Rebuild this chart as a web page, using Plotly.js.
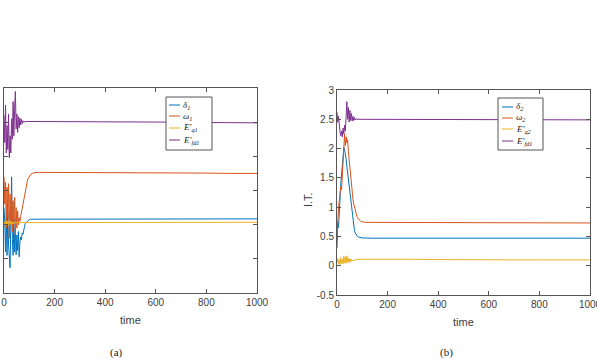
<!DOCTYPE html>
<html>
<head>
<meta charset="utf-8">
<script src="https://cdn.plot.ly/plotly-3.0.1.min.js"></script>
<style>html,body{margin:0;padding:0;background:#fff}#chart{width:597px;height:359px}</style>
</head>
<body>
<div id="chart"></div>
<script>
// ---- data ----
const time = [0,3,6,9,12,15,18,21,24,27,30,33,36,39,42,45,48,51,54,57,60,63,66,69,72,75,78,81,84,87,90,93,96,99,102,105,108,111,114,117,120,140,170,200,300,400,500,600,700,800,900,1000];

// panel (a)
const delta1 = [1.25,1.05,0.60,1.10,0.55,1.20,0.70,0.40,0.37,1.05,1.70,0.80,0.55,1.10,0.60,0.95,0.56,0.85,0.62,0.90,0.53,0.75,0.82,0.78,0.88,0.86,0.95,0.97,1.02,1.03,1.05,1.06,1.07,1.075,1.08,1.08,1.08,1.08,1.08,1.08,1.08,1.08,1.085,1.085,1.085,1.085,1.085,1.085,1.085,1.085,1.085,1.085];
const omega1 = [1.70,1.30,1.62,0.95,1.55,1.10,1.60,0.80,1.45,1.00,1.50,0.90,1.35,1.05,1.40,0.85,1.25,0.95,1.20,1.00,1.10,1.05,1.12,1.18,1.25,1.32,1.39,1.46,1.52,1.57,1.61,1.65,1.68,1.70,1.72,1.735,1.745,1.75,1.755,1.758,1.76,1.765,1.765,1.765,1.76,1.76,1.76,1.755,1.755,1.755,1.75,1.75];
const Eq1 = [1.00,1.04,0.98,1.06,1.00,1.05,0.99,1.06,1.01,1.05,1.00,1.04,1.01,1.04,1.02,1.04,1.02,1.035,1.025,1.03,1.03,1.03,1.03,1.03,1.03,1.03,1.03,1.03,1.03,1.03,1.03,1.03,1.03,1.03,1.03,1.03,1.03,1.03,1.03,1.03,1.03,1.03,1.03,1.03,1.03,1.03,1.03,1.035,1.035,1.035,1.035,1.035];
const Efd1 = [2.60,2.20,2.75,2.05,2.45,2.10,2.62,1.98,2.30,2.05,2.55,2.25,2.80,2.30,2.70,2.95,2.40,2.62,2.35,2.58,2.42,2.56,2.46,2.54,2.48,2.52,2.50,2.51,2.51,2.51,2.51,2.51,2.51,2.51,2.51,2.51,2.51,2.51,2.51,2.51,2.51,2.51,2.51,2.51,2.51,2.505,2.50,2.50,2.50,2.495,2.49,2.49];

// panel (b)
const delta2 = [0.30,0.75,0.65,1.00,1.20,1.40,1.55,1.75,1.95,2.02,1.98,1.92,1.82,1.70,1.58,1.48,1.36,1.24,1.12,0.99,0.88,0.76,0.67,0.60,0.56,0.53,0.51,0.50,0.49,0.485,0.48,0.478,0.476,0.475,0.474,0.473,0.472,0.471,0.47,0.47,0.47,0.47,0.47,0.47,0.47,0.47,0.47,0.47,0.47,0.47,0.47,0.47];
const omega2 = [0.45,0.80,1.00,1.10,1.25,1.35,1.30,1.60,1.90,2.10,2.25,2.05,2.20,2.10,2.15,1.95,1.80,1.65,1.50,1.36,1.25,1.14,1.06,0.99,0.93,0.88,0.85,0.82,0.80,0.78,0.77,0.76,0.755,0.75,0.745,0.745,0.74,0.74,0.74,0.74,0.74,0.74,0.74,0.74,0.74,0.74,0.735,0.735,0.735,0.73,0.73,0.73];
const Eq2 = [0.05,0.12,0.03,0.10,0.02,0.14,0.04,0.11,0.03,0.16,0.05,0.15,0.04,0.17,0.06,0.13,0.05,0.12,0.07,0.11,0.08,0.10,0.09,0.10,0.10,0.105,0.11,0.11,0.115,0.115,0.12,0.12,0.12,0.12,0.12,0.12,0.12,0.12,0.12,0.12,0.12,0.12,0.12,0.115,0.11,0.105,0.10,0.10,0.10,0.10,0.10,0.10];
const Efd2 = [2.62,2.45,2.55,2.35,2.28,2.22,2.30,2.20,2.35,2.25,2.40,2.30,2.55,2.80,2.50,2.70,2.45,2.65,2.48,2.60,2.47,2.55,2.48,2.53,2.49,2.51,2.50,2.50,2.50,2.50,2.50,2.50,2.50,2.50,2.50,2.50,2.50,2.50,2.50,2.50,2.50,2.50,2.50,2.50,2.50,2.50,2.50,2.495,2.495,2.49,2.49,2.49];

const namesA = ['δ<sub>1</sub>','ω<sub>1</sub>','E′<sub>q1</sub>','E′<sub>fd1</sub>'];
const namesB = ['δ<sub>2</sub>','ω<sub>2</sub>','E′<sub>q2</sub>','E′<sub>fd1</sub>'];
const xTicks = [0,200,400,600,800,1000];
const yTicksB = [-0.5,0,0.5,1,1.5,2,2.5,3];
const yTickLabelsB = ['-0.5','0','0.5','1','1.5','2','2.5','3'];
const xTitle = 'time';
const yTitleB = 'I.T.';
const panelLabels = ['(a)','(b)'];

// ---- styling ----
const colors = ['#0072BD','#D95319','#EDB120','#7E2F8E'];
const W = 597, H = 359;
const px = x => x / W, py = y => 1 - y / H;
const axisColor = '#555';
const tickFont = {family:'Liberation Sans, Arial, sans-serif', size:10, color:'#404040'};

const seriesA = [delta1, omega1, Eq1, Efd1];
const seriesB = [delta2, omega2, Eq2, Efd2];
const traces = [];
seriesA.forEach((s,i)=>traces.push({x:time,y:s,type:'scatter',mode:'lines',name:namesA[i],line:{color:colors[i],width:1},xaxis:'x',yaxis:'y',showlegend:false}));
seriesB.forEach((s,i)=>traces.push({x:time,y:s,type:'scatter',mode:'lines',name:namesB[i],line:{color:colors[i],width:1},xaxis:'x2',yaxis:'y2',showlegend:false}));

const baseAxis = {showgrid:false,zeroline:false,showline:true,mirror:'ticks',linecolor:axisColor,linewidth:1,ticks:'inside',ticklen:4,tickcolor:axisColor,tickfont:tickFont,automargin:false,ticklabeloverflow:'allow'};

// custom MATLAB-like legends
const shapes = [], annotations = [];
function legend(names, box, lineX0, lineX1, textX, rows){
  shapes.push({type:'rect',xref:'paper',yref:'paper',x0:px(box[0]),x1:px(box[2]),y0:py(box[3]),y1:py(box[1]),line:{color:'#555',width:1},fillcolor:'#fff',layer:'above'});
  names.forEach((n,i)=>{
    shapes.push({type:'line',xref:'paper',yref:'paper',x0:px(lineX0),x1:px(lineX1),y0:py(rows[i]),y1:py(rows[i]),line:{color:colors[i],width:1},layer:'above'});
    annotations.push({xref:'paper',yref:'paper',x:px(textX),y:py(rows[i]),xanchor:'left',yanchor:'middle',showarrow:false,text:'<i>'+n+'</i>',font:{family:'Liberation Serif, Times New Roman, serif',size:9,color:'#222'}});
  });
}
legend(namesA,[166,97,212,150],169,180,181,[105,116,128,140]);
legend(namesB,[498,98,543,150],502,513,514,[107,118,129,141]);

const sans = 'Liberation Sans, Arial, sans-serif', serif = 'Liberation Serif, Times New Roman, serif';
annotations.push({xref:'paper',yref:'paper',x:px(130.5),y:py(320),xanchor:'center',yanchor:'middle',showarrow:false,text:xTitle,font:{family:sans,size:11,color:'#404040'}});
annotations.push({xref:'paper',yref:'paper',x:px(463.5),y:py(322),xanchor:'center',yanchor:'middle',showarrow:false,text:xTitle,font:{family:sans,size:11,color:'#404040'}});
annotations.push({xref:'paper',yref:'paper',x:px(308),y:py(200),xanchor:'center',yanchor:'middle',showarrow:false,textangle:-90,text:yTitleB,font:{family:sans,size:11,color:'#404040'}});
annotations.push({xref:'paper',yref:'paper',x:px(116.5),y:py(352),xanchor:'center',yanchor:'middle',showarrow:false,text:panelLabels[0],font:{family:serif,size:11,color:'#222'}});
annotations.push({xref:'paper',yref:'paper',x:px(446),y:py(352),xanchor:'center',yanchor:'middle',showarrow:false,text:panelLabels[1],font:{family:serif,size:11,color:'#222'}});

const layout = {
  width:W,height:H,margin:{l:0,r:0,t:0,b:0},paper_bgcolor:'#fff',plot_bgcolor:'#fff',showlegend:false,
  xaxis:Object.assign({},baseAxis,{domain:[px(4),px(257)],range:[0,1000],tickvals:xTicks,anchor:'y'}),
  yaxis:Object.assign({},baseAxis,{domain:[py(293),py(88)],range:[0,3],dtick:0.5,showticklabels:false,anchor:'x'}),
  xaxis2:Object.assign({},baseAxis,{domain:[px(337),px(590)],range:[0,1000],tickvals:xTicks,anchor:'y2'}),
  yaxis2:Object.assign({},baseAxis,{domain:[py(295),py(90)],range:[-0.5,3],tickvals:yTicksB,ticktext:yTickLabelsB,anchor:'x2'}),
  shapes:shapes,annotations:annotations
};
Plotly.newPlot('chart',traces,layout,{staticPlot:true,displayModeBar:false});
</script>
</body>
</html>
